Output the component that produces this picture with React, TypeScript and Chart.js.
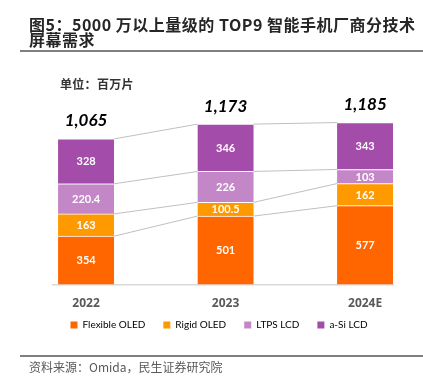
import React, { useEffect, useRef } from "react";
import { Chart, registerables } from "chart.js";

Chart.register(...registerables);

const categories = ["2022", "2023", "2024E"];
const seriesNames = ["Flexible OLED", "Rigid OLED", "LTPS LCD", "a-Si LCD"];
const flexibleOled = [354, 501, 577];
const rigidOled = [163, 100.5, 162];
const ltpsLcd = [220.4, 226, 103];
const aSiLcd = [328, 346, 343];
const segmentLabels = [
  ["354", "501", "577"],
  ["163", "100.5", "162"],
  ["220.4", "226", "103"],
  ["328", "346", "343"],
];
const totalLabels = ["1,065", "1,173", "1,185"];
const seriesColors = ["#FF6600", "#FF9900", "#C387C8", "#A44CA9"];

const NUM_FONT = 'Lato, "Open Sans", "Liberation Sans", sans-serif';
const TICK_FONT = '"Open Sans", Lato, "Liberation Sans", sans-serif';
const CJK_FONT = '"Noto Sans CJK SC", "Noto Sans", sans-serif';

const connectorPlugin = {
  id: "connectors",
  beforeDatasetsDraw(chart: any) {
    const ctx = chart.ctx;
    const n = chart.data.datasets.length;
    ctx.save();
    ctx.strokeStyle = "#BFBFBF";
    ctx.lineWidth = 1;
    for (let d = 0; d < n; d++) {
      const bars = chart.getDatasetMeta(d).data;
      for (let i = 0; i < bars.length - 1; i++) {
        const a: any = bars[i];
        const b: any = bars[i + 1];
        ctx.beginPath();
        ctx.moveTo(a.x + a.width / 2, a.y);
        ctx.lineTo(b.x - b.width / 2, b.y);
        ctx.stroke();
      }
    }
    ctx.restore();
  },
};

const labelPlugin = {
  id: "barLabels",
  afterDatasetsDraw(chart: any) {
    const ctx = chart.ctx;
    const n = chart.data.datasets.length;
    ctx.save();
    ctx.textAlign = "center";
    ctx.textBaseline = "middle";
    ctx.fillStyle = "#FFFFFF";
    ctx.font = `bold 11px ${NUM_FONT}`;
    for (let d = 0; d < n; d++) {
      const bars = chart.getDatasetMeta(d).data;
      bars.forEach((bar: any, i: number) => {
        ctx.fillText(segmentLabels[d][i], bar.x, (bar.y + bar.base) / 2 + 0.5);
      });
    }
    const topBars = chart.getDatasetMeta(n - 1).data;
    ctx.fillStyle = "#000000";
    ctx.font = `italic bold 17px ${NUM_FONT}`;
    topBars.forEach((bar: any, i: number) => {
      ctx.fillText(totalLabels[i], bar.x, bar.y - 18);
    });
    ctx.restore();
  },
};

// Pull the legend row up closer to the category labels.
const LEGEND_SHIFT_Y = 21;
const LEGEND_SHIFT_X = 4;
const legendShiftPlugin = {
  id: "legendShift",
  afterLayout(chart: any) {
    const lg = chart.legend;
    if (lg) {
      lg.top -= LEGEND_SHIFT_Y;
      lg.bottom -= LEGEND_SHIFT_Y;
      lg.left -= LEGEND_SHIFT_X;
      lg.right -= LEGEND_SHIFT_X;
    }
  },
};

function ChartCanvas() {
  const ref = useRef<HTMLCanvasElement | null>(null);
  useEffect(() => {
    if (!ref.current) return;
    const values = [flexibleOled, rigidOled, ltpsLcd, aSiLcd];
    const chart = new Chart(ref.current, {
      type: "bar",
      data: {
        datasets: values.map((arr, d) => ({
          label: seriesNames[d],
          data: arr.map((v, i) => ({ x: i, y: v })),
          backgroundColor: seriesColors[d],
          borderColor: "#FFFFFF",
          borderWidth: { top: 1, left: 0, right: 0, bottom: 0 },
          borderSkipped: false,
          barThickness: 56,
        })),
      } as any,
      options: {
        responsive: false,
        animation: false,
        events: [],
        layout: { padding: { left: 53, right: 30, top: 100, bottom: 22 } },
        scales: {
          x: {
            type: "linear",
            stacked: true,
            min: -0.237,
            max: 2.2,
            offset: false,
            grid: { display: false, drawTicks: false },
            border: { display: true, color: "#D9D9D9", width: 1.5 },
            afterBuildTicks: (axis: any) => {
              axis.ticks = categories.map((_, i) => ({ value: i }));
            },
            ticks: {
              autoSkip: false,
              maxRotation: 0,
              padding: 12,
              color: "#595959",
              font: { family: TICK_FONT, size: 12, weight: "bold" },
              callback: (v: any) => categories[v as number] ?? "",
            },
          },
          y: {
            stacked: true,
            min: 0,
            max: 1350,
            display: false,
          },
        },
        plugins: {
          legend: {
            position: "bottom",
            labels: {
              boxWidth: 7,
              boxHeight: 7,
              padding: 18,
              color: "#595959",
              font: { family: NUM_FONT, size: 10 },
              generateLabels: () =>
                seriesNames.map((name, i) => ({
                  text: name,
                  fillStyle: seriesColors[i],
                  strokeStyle: seriesColors[i],
                  lineWidth: 0,
                  hidden: false,
                  datasetIndex: i,
                })),
            },
          },
          tooltip: { enabled: false },
          title: { display: false },
        },
      } as any,
      plugins: [connectorPlugin, labelPlugin, legendShiftPlugin],
    });
    return () => chart.destroy();
  }, []);
  return (
    <canvas
      ref={ref}
      width={423}
      height={383}
      style={{ position: "absolute", left: 0, top: 0, width: 423, height: 383 }}
    />
  );
}

export default function App() {
  return (
    <div
      style={{
        position: "fixed",
        left: 0,
        top: 0,
        width: 423,
        height: 383,
        background: "#FFFFFF",
        overflow: "hidden",
      }}
    >
      <ChartCanvas />
      <div
        style={{
          position: "absolute",
          left: 29,
          top: 17,
          fontFamily: CJK_FONT,
          fontWeight: 700,
          fontSize: 16,
          letterSpacing: 0.5,
          lineHeight: "15px",
          color: "#262626",
          whiteSpace: "nowrap",
        }}
      >
        <div>图5：5000 万以上量级的 TOP9 智能手机厂商分技术</div>
        <div>屏幕需求</div>
      </div>
      <div
        style={{
          position: "absolute",
          left: 20,
          top: 50,
          width: 403,
          height: 1.5,
          background: "#7F7F7F",
        }}
      />
      <div
        style={{
          position: "absolute",
          left: 60,
          top: 77,
          fontFamily: CJK_FONT,
          fontWeight: 700,
          fontSize: 12,
          letterSpacing: 0.3,
          lineHeight: "14px",
          color: "#333333",
          whiteSpace: "nowrap",
        }}
      >
        单位：百万片
      </div>
      <div
        style={{
          position: "absolute",
          left: 20,
          top: 355,
          width: 403,
          height: 1.5,
          background: "#7F7F7F",
        }}
      />
      <div
        style={{
          position: "absolute",
          left: 29,
          top: 359,
          fontFamily: CJK_FONT,
          fontSize: 12,
          lineHeight: "16px",
          color: "#595959",
          whiteSpace: "nowrap",
        }}
      >
        资料来源：Omida，民生证券研究院
      </div>
    </div>
  );
}
